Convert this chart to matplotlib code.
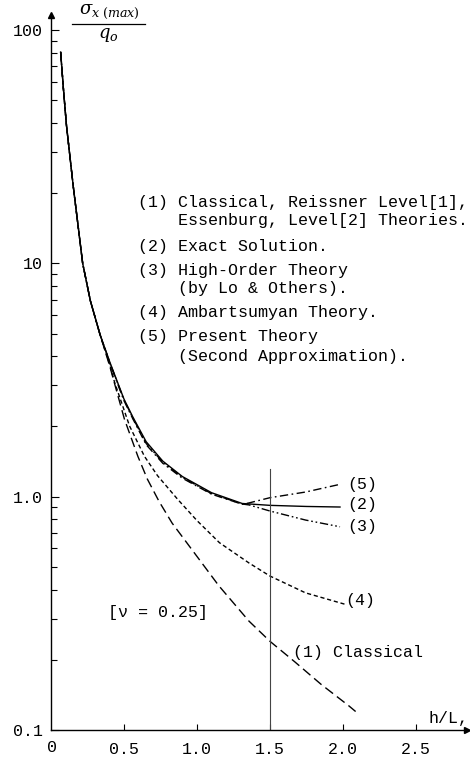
import matplotlib
matplotlib.use("Agg")
import matplotlib.pyplot as plt
from matplotlib.lines import Line2D

plt.rcParams['font.family'] = ['Liberation Mono', 'DejaVu Sans Mono']
plt.rcParams['mathtext.fontset'] = 'dejavuserif'

W, H = 470, 757

# h/L values and stresses
# (2) exact solution
x_exact = [0.066, 0.085, 0.106, 0.152, 0.217, 0.27, 0.336, 0.404, 0.5, 0.56, 0.652, 0.766, 0.9, 1.1, 1.31, 1.5, 1.75, 1.98]
y_exact = [80.5, 56.0, 39.0, 21.5, 10.0, 6.9, 4.95, 3.76, 2.62, 2.2, 1.72, 1.42, 1.22, 1.04, 0.935, 0.918, 0.908, 0.903]

# (3) high-order theory
x_high = [0.066, 0.085, 0.106, 0.152, 0.217, 0.27, 0.336, 0.404, 0.5, 0.56, 0.652, 0.766, 0.9, 1.1, 1.31, 1.356, 1.5, 1.744, 1.98]
y_high = [80.5, 56.0, 39.0, 21.5, 10.0, 6.9, 4.95, 3.74, 2.6, 2.18, 1.69, 1.405, 1.21, 1.03, 0.93, 0.922, 0.868, 0.794, 0.743]

# (5) present theory
x_pres = [0.066, 0.085, 0.106, 0.152, 0.217, 0.27, 0.336, 0.404, 0.5, 0.56, 0.652, 0.766, 0.9, 1.1, 1.31, 1.356, 1.5, 1.744, 1.97]
y_pres = [80.5, 56.0, 39.0, 21.5, 10.0, 6.9, 4.95, 3.72, 2.58, 2.16, 1.67, 1.39, 1.20, 1.025, 0.928, 0.94, 0.99, 1.047, 1.126]

# (4) Ambartsumyan
x_amb = [0.066, 0.085, 0.106, 0.152, 0.217, 0.27, 0.336, 0.404, 0.435, 0.538, 0.64, 0.73, 0.868, 1.0, 1.154, 1.356, 1.5, 1.744, 2.02]
y_amb = [80.5, 56.0, 39.0, 21.5, 10.0, 6.9, 4.95, 3.65, 3.1, 2.01, 1.49, 1.23, 0.974, 0.79, 0.635, 0.52, 0.457, 0.387, 0.345]

# (1) classical
x_cls = [0.066, 0.085, 0.106, 0.152, 0.217, 0.27, 0.336, 0.404, 0.446, 0.503, 0.595, 0.66, 0.74, 0.83, 0.93, 1.15, 1.356, 1.5, 1.67, 1.85, 2.04, 2.087]
y_cls = [80.5, 56.0, 39.0, 21.5, 10.0, 6.9, 4.95, 3.6, 2.89, 2.15, 1.49, 1.19, 0.955, 0.77, 0.635, 0.415, 0.293, 0.24, 0.196, 0.157, 0.127, 0.12]

x_ticks = [0.5, 1.0, 1.5, 2.0, 2.5]
x_tick_labels = ['0.5', '1.0', '1.5', '2.0', '2.5']
y_ticks = [0.1, 1.0, 10, 100]
y_tick_labels = ['0.1', '1.0', '10', '100']

legend_lines = [
    "(1) Classical, Reissner Level[1],",
    "    Essenburg, Level[2] Theories.",
    "(2) Exact Solution.",
    "(3) High-Order Theory",
    "    (by Lo & Others).",
    "(4) Ambartsumyan Theory.",
    "(5) Present Theory",
    "    (Second Approximation).",
]
legend_y = [203, 221, 246, 271, 288, 313, 337, 356]


def fx(px):
    return px / W


def fy(py):
    return 1 - py / H


fig = plt.figure(figsize=(W / 100, H / 100), dpi=100)
ax = fig.add_axes([fx(51), fy(730), 416 / W, 715 / H])
ax.set_yscale('log')
ax.set_xlim(0, 2.85)
ax.set_ylim(0.1, 116)

lw = 1.0
ax.plot(x_exact, y_exact, color='black', lw=lw)
ax.plot(x_high, y_high, color='black', lw=lw, dashes=(6, 2, 1.2, 2, 1.2, 2))
ax.plot(x_pres, y_pres, color='black', lw=lw, dashes=(6, 2.5, 1.2, 2.5))
ax.plot(x_amb, y_amb, color='black', lw=lw, dashes=(3, 2))
ax.plot(x_cls, y_cls, color='black', lw=lw, dashes=(7, 3.5))

# vertical marker at h/L = 1.5
ax.plot([1.5, 1.5], [0.1, 1.31], color='#444444', lw=0.8)

# axes: only left / bottom, with arrow heads
for s in ['top', 'right']:
    ax.spines[s].set_visible(False)
for s in ['left', 'bottom']:
    ax.spines[s].set_linewidth(1.0)
ax.plot(1, 0, marker='>', color='black', ms=5, transform=ax.transAxes, clip_on=False)
ax.plot(0, 1, marker='^', color='black', ms=5, transform=ax.transAxes, clip_on=False)

ax.set_xticks(x_ticks)
ax.set_xticklabels(x_tick_labels)
ax.set_yticks(y_ticks)
ax.set_yticklabels(y_tick_labels)
ax.yaxis.set_minor_locator(matplotlib.ticker.LogLocator(base=10, subs=range(2, 10)))
ax.yaxis.set_minor_formatter(matplotlib.ticker.NullFormatter())
ax.tick_params(axis='x', direction='in', length=4, width=0.8, pad=9, labelsize=12)
ax.tick_params(axis='y', which='major', direction='in', length=6, width=0.8, pad=6, labelsize=12)
ax.tick_params(axis='y', which='minor', direction='in', length=4.5, width=0.8)

# origin label
fig.text(fx(52), fy(747), '0', ha='center', va='center', fontsize=12)

# y label as a fraction at the top
fig.text(fx(109), fy(12), r'$\sigma_{x\ (max)}$', ha='center', va='center', fontsize=13)
fig.add_artist(Line2D([fx(72), fx(145)], [fy(24), fy(24)], color='black', lw=0.9))
fig.text(fx(108), fy(35), r'$q_o$', ha='center', va='center', fontsize=13)

fig.text(fx(428), fy(718), 'h/L,', ha='left', va='center', fontsize=12)

for line, py in zip(legend_lines, legend_y):
    fig.text(fx(138), fy(py), line, ha='left', va='center', fontsize=12)

fig.text(fx(347), fy(485), '(5)', ha='left', va='center', fontsize=12)
fig.text(fx(347), fy(504), '(2)', ha='left', va='center', fontsize=12)
fig.text(fx(347), fy(527), '(3)', ha='left', va='center', fontsize=12)
fig.text(fx(345), fy(600), '(4)', ha='left', va='center', fontsize=12)
fig.text(fx(293), fy(652), '(1) Classical', ha='left', va='center', fontsize=12)
fig.text(fx(108), fy(613), '[\u03bd = 0.25]', ha='left', va='center', fontsize=12)

fig.savefig('out.png', dpi=100)
